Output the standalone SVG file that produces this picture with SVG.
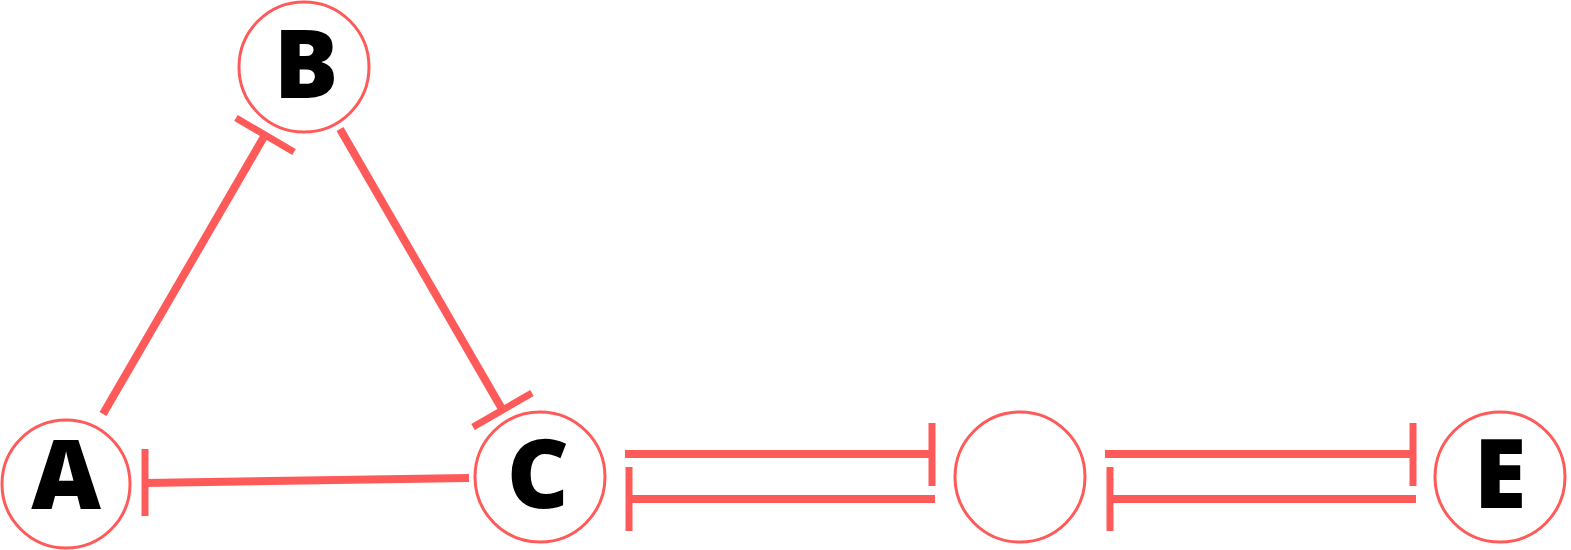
<svg xmlns="http://www.w3.org/2000/svg" width="1571" height="550" viewBox="0 0 1571 550">
<style>
.node circle{fill:#fff;stroke:#ff5a5a;stroke-width:3}
.node text{font-family:"Open Sans","Liberation Sans",sans-serif;font-weight:800;font-size:96px;fill:#000;text-anchor:middle}
.edge{stroke:#ff5a5a;fill:none;stroke-width:8}
.bar{stroke:#ff5a5a;fill:none;stroke-width:7}
</style>
<rect width="1571" height="550" fill="#fff"/>
<g id="connectors">
<g id="A-B"><line class="edge" x1="103" y1="414" x2="265" y2="135"/><line class="bar" x1="236" y1="118" x2="294" y2="152"/></g>
<g id="B-C"><line class="edge" x1="340" y1="129" x2="502" y2="409"/><line class="bar" x1="473" y1="427" x2="532" y2="393"/></g>
<g id="C-A"><line class="edge" x1="469" y1="478" x2="145" y2="483"/><line class="bar" x1="145" y1="449" x2="145" y2="516"/></g>
<g id="C-D"><line class="edge" x1="625" y1="454" x2="932" y2="454"/><line class="bar" x1="932" y1="423" x2="932" y2="486"/></g>
<g id="D-C"><line class="edge" x1="935" y1="499" x2="629" y2="499"/><line class="bar" x1="629" y1="467" x2="629" y2="531"/></g>
<g id="D-E"><line class="edge" x1="1105" y1="454" x2="1413" y2="454"/><line class="bar" x1="1413" y1="423" x2="1413" y2="486"/></g>
<g id="E-D"><line class="edge" x1="1416" y1="499" x2="1110" y2="499"/><line class="bar" x1="1110" y1="467" x2="1110" y2="531"/></g>
</g>
<g id="node-A" class="node"><circle cx="66" cy="484" r="64"/><text x="66" y="509">A</text></g>
<g id="node-B" class="node"><circle cx="304" cy="67" r="65"/><text x="306" y="98">B</text></g>
<g id="node-C" class="node"><circle cx="540" cy="477" r="65"/><text x="538" y="508">C</text></g>
<g id="node-D" class="node"><circle cx="1020" cy="477" r="65"/></g>
<g id="node-E" class="node"><circle cx="1500" cy="477" r="65"/><text x="1500" y="508">E</text></g>
</svg>
